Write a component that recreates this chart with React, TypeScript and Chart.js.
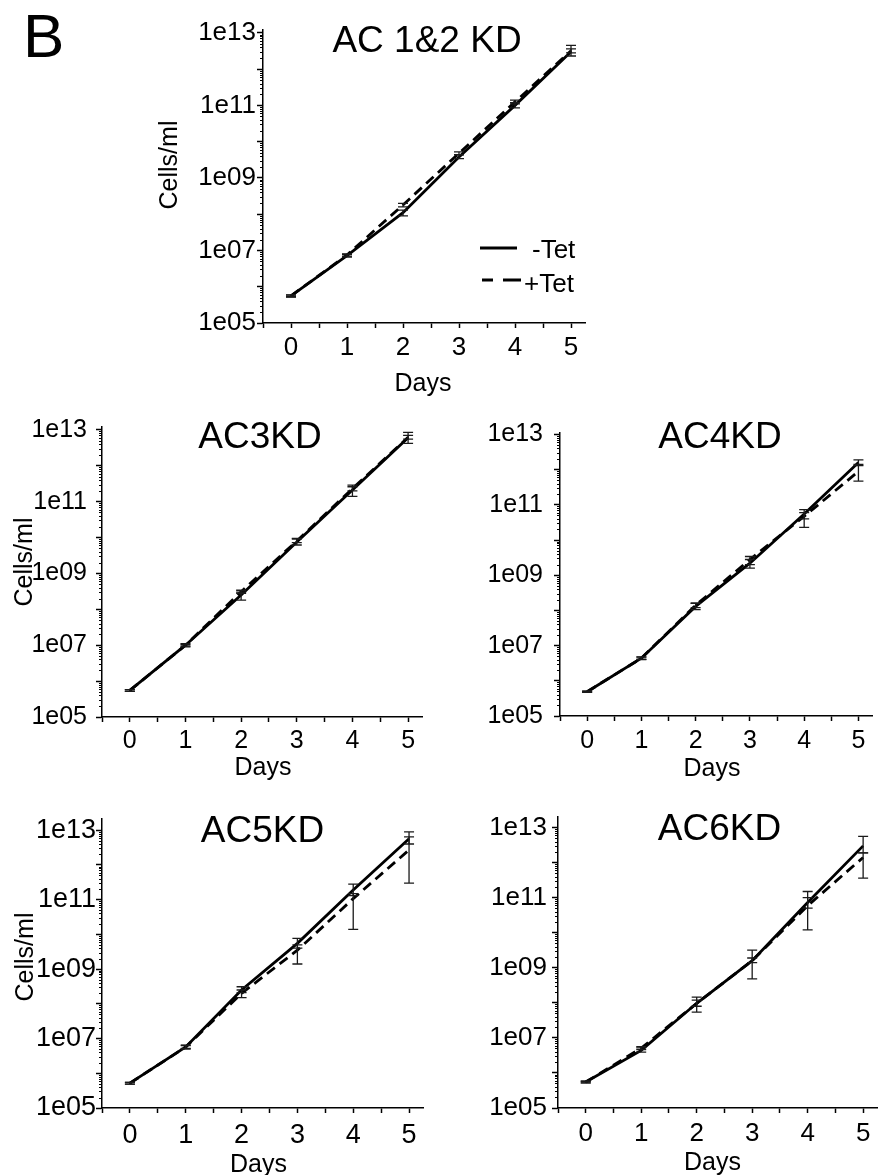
import React, { useEffect, useRef } from 'react';
import { Chart, registerables } from 'chart.js';

Chart.register(...registerables);

const FONT = '"Liberation Sans", Arial, Helvetica, sans-serif';

// ---- shared axes ----
const days = [0, 1, 2, 3, 4, 5];
const xTickValues = [-0.5, 0, 0.5, 1, 1.5, 2, 2.5, 3, 3.5, 4, 4.5, 5];
const yDecadeExps = [5, 6, 7, 8, 9, 10, 11, 12, 13];
const yLabelExps = [5, 7, 9, 11, 13];
const seriesLabels = ['-Tet', '+Tet'];
const xAxisTitle = 'Days';
const yAxisTitle = 'Cells/ml';
const panelLetter = 'B';

// ---- AC 1&2 KD ----
const ac12Minus = [5.6e5, 7.2e6, 1.1e8, 3.8e9, 1.0e11, 3.0e12];
const ac12MinusLo = [5.2e5, 6.6e6, 9.0e7, 3.4e9, 8.5e10, 2.3e12];
const ac12MinusHi = [6.0e5, 7.8e6, 1.3e8, 4.3e9, 1.2e11, 4.5e12];
const ac12Plus = [5.6e5, 7.5e6, 1.8e8, 4.8e9, 1.25e11, 3.2e12];
const ac12PlusLo = [5.3e5, 7.0e6, 1.6e8, 4.4e9, 1.1e11, 2.8e12];
const ac12PlusHi = [5.9e5, 8.0e6, 2.0e8, 5.2e9, 1.4e11, 3.6e12];

// ---- AC3KD ----
const ac3Minus = [5.5e5, 1.0e7, 2.5e8, 7.5e9, 2.1e11, 6.0e12];
const ac3MinusLo = [5.2e5, 9.0e6, 1.8e8, 6.2e9, 1.4e11, 4.2e12];
const ac3MinusHi = [5.8e5, 1.1e7, 3.0e8, 9.5e9, 2.9e11, 8.5e12];
const ac3Plus = [5.5e5, 1.0e7, 3.1e8, 8.0e9, 2.3e11, 6.2e12];
const ac3PlusLo = [5.2e5, 9.5e6, 2.8e8, 7.2e9, 2.0e11, 5.5e12];
const ac3PlusHi = [5.8e5, 1.05e7, 3.4e8, 9.0e9, 2.6e11, 7.0e12];

// ---- AC4KD ----
const ac4Minus = [4.9e5, 4.4e6, 1.3e8, 2.2e9, 5.5e10, 1.6e12];
const ac4MinusLo = [4.7e5, 4.0e6, 1.05e8, 1.6e9, 4.0e10, 1.3e12];
const ac4MinusHi = [5.1e5, 4.8e6, 1.6e8, 2.8e9, 7.3e10, 1.9e12];
const ac4Plus = [4.9e5, 4.4e6, 1.4e8, 2.8e9, 4.7e10, 8.9e11];
const ac4PlusLo = [4.7e5, 4.1e6, 1.2e8, 2.0e9, 2.3e10, 4.7e11];
const ac4PlusHi = [5.1e5, 4.7e6, 1.6e8, 3.4e9, 6.0e10, 1.4e12];

// ---- AC5KD ----
const ac5Minus = [5.2e5, 5.7e6, 2.5e8, 5.5e9, 1.9e11, 5.7e12];
const ac5MinusLo = [4.9e5, 5.0e6, 2.1e8, 4.0e9, 1.3e11, 4.0e12];
const ac5MinusHi = [5.5e5, 6.5e6, 3.1e8, 7.7e9, 2.8e11, 9.0e12];
const ac5Plus = [5.2e5, 5.7e6, 2.0e8, 3.5e9, 1.07e11, 2.7e12];
const ac5PlusLo = [4.9e5, 5.2e6, 1.5e8, 1.4e9, 1.4e10, 3.0e11];
const ac5PlusHi = [5.5e5, 6.3e6, 2.5e8, 5.0e9, 1.5e11, 6.4e12];

// ---- AC6KD ----
const ac6Minus = [5.5e5, 4.4e6, 9.7e7, 1.6e9, 7.3e10, 3.0e12];
const ac6MinusLo = [5.2e5, 3.9e6, 8.0e7, 1.4e9, 5.0e10, 1.9e12];
const ac6MinusHi = [5.8e5, 5.2e6, 1.45e8, 1.9e9, 1.5e11, 5.6e12];
const ac6Plus = [5.5e5, 5.1e6, 9.7e7, 1.6e9, 5.9e10, 1.4e12];
const ac6PlusLo = [5.2e5, 4.6e6, 5.4e7, 4.8e8, 1.2e10, 3.6e11];
const ac6PlusHi = [5.8e5, 5.6e6, 1.2e8, 3.2e9, 1.0e11, 1.9e12];

type Panel = {
  title: string;
  minus: number[]; minusLo: number[]; minusHi: number[];
  plus: number[]; plusLo: number[]; plusHi: number[];
  cx: number; cy: number; cw: number; ch: number;
  L: number; R: number; T: number; B: number;
  yMax: number;
  fs: number; yPad: number; xPad: number;
  titleDx: number; titleDy: number;
  yTitle: boolean; yTitleDx?: number; yTitleDy?: number;
  daysDx: number; daysDy: number;
  legend?: boolean; letter?: boolean;
};

const panels: Panel[] = [
  {
    title: 'AC 1&2 KD',
    minus: ac12Minus, minusLo: ac12MinusLo, minusHi: ac12MinusHi,
    plus: ac12Plus, plusLo: ac12PlusLo, plusHi: ac12PlusHi,
    cx: 0, cy: 0, cw: 620, ch: 410, L: 263, R: 585, T: 30, B: 323,
    yMax: 1.2e13, fs: 26, yPad: 1, xPad: 4,
    titleDx: 3, titleDy: 22, yTitle: true, yTitleDx: -86, yTitleDy: 135,
    daysDx: -1, daysDy: 61, legend: true, letter: true,
  },
  {
    title: 'AC3KD',
    minus: ac3Minus, minusLo: ac3MinusLo, minusHi: ac3MinusHi,
    plus: ac3Plus, plusLo: ac3PlusLo, plusHi: ac3PlusHi,
    cx: 0, cy: 410, cw: 440, ch: 385, L: 102, R: 422, T: 427, B: 717,
    yMax: 1.2e13, fs: 25, yPad: 9, xPad: 4,
    titleDx: -2, titleDy: 21, yTitle: true, yTitleDx: -70, yTitleDy: 135,
    daysDx: 1, daysDy: 51,
  },
  {
    title: 'AC4KD',
    minus: ac4Minus, minusLo: ac4MinusLo, minusHi: ac4MinusHi,
    plus: ac4Plus, plusLo: ac4PlusLo, plusHi: ac4PlusHi,
    cx: 440, cy: 410, cw: 445, ch: 385, L: 560, R: 872, T: 433, B: 716,
    yMax: 1.1e13, fs: 25, yPad: 11, xPad: 5,
    titleDx: 4, titleDy: 15, yTitle: false,
    daysDx: -4, daysDy: 53,
  },
  {
    title: 'AC5KD',
    minus: ac5Minus, minusLo: ac5MinusLo, minusHi: ac5MinusHi,
    plus: ac5Plus, plusLo: ac5PlusLo, plusHi: ac5PlusHi,
    cx: 0, cy: 800, cw: 440, ch: 375, L: 102, R: 423, T: 819, B: 1108,
    yMax: 2.1e13, fs: 27, yPad: 0, xPad: 6,
    titleDx: 0, titleDy: 23, yTitle: true, yTitleDx: -69, yTitleDy: 138,
    daysDx: -4, daysDy: 57,
  },
  {
    title: 'AC6KD',
    minus: ac6Minus, minusLo: ac6MinusLo, minusHi: ac6MinusHi,
    plus: ac6Plus, plusLo: ac6PlusLo, plusHi: ac6PlusHi,
    cx: 440, cy: 800, cw: 445, ch: 375, L: 558, R: 877, T: 817, B: 1108,
    yMax: 2.0e13, fs: 26, yPad: 5, xPad: 5,
    titleDx: 2, titleDy: 23, yTitle: false,
    daysDx: -5, daysDy: 55,
  },
];

function yLabel(value: number): string {
  const e = Math.round(Math.log10(value));
  if (Math.abs(value / Math.pow(10, e) - 1) > 1e-6) return '';
  if (!yLabelExps.includes(e)) return '';
  return '1e' + String(e).padStart(2, '0');
}

function makeDecor(p: Panel) {
  return {
    id: 'decor',
    afterDatasetsDraw(chart: any) {
      const { ctx, scales } = chart;
      const x = scales.x;
      const y = scales.y;
      ctx.save();
      ctx.strokeStyle = '#1a1a1a';
      ctx.lineWidth = 1.3;
      const series = [
        [p.minusLo, p.minusHi],
        [p.plusLo, p.plusHi],
      ];
      series.forEach(([lo, hi]) => {
        days.forEach((d, i) => {
          const px = x.getPixelForValue(d);
          const pl = y.getPixelForValue(lo[i]);
          const ph = y.getPixelForValue(hi[i]);
          ctx.beginPath();
          ctx.moveTo(px, pl); ctx.lineTo(px, ph);
          ctx.moveTo(px - 5, pl); ctx.lineTo(px + 5, pl);
          ctx.moveTo(px - 5, ph); ctx.lineTo(px + 5, ph);
          ctx.stroke();
        });
      });
      ctx.restore();
    },
    afterDraw(chart: any) {
      const { ctx, chartArea, scales } = chart;
      const y = scales.y;
      const { left, right, top, bottom } = chartArea;
      ctx.save();
      // minor log ticks
      ctx.strokeStyle = '#000';
      ctx.lineWidth = 1;
      for (let e = 5; e < 13; e++) {
        for (let m = 2; m <= 9; m++) {
          const py = Math.round(y.getPixelForValue(m * Math.pow(10, e))) + 0.5;
          if (py < top) continue;
          ctx.beginPath();
          ctx.moveTo(left - 3, py); ctx.lineTo(left, py);
          ctx.stroke();
        }
      }
      ctx.fillStyle = '#000';
      // panel title
      ctx.font = `37px ${FONT}`;
      ctx.textAlign = 'center';
      ctx.textBaseline = 'alphabetic';
      ctx.fillText(p.title, (left + right) / 2 + p.titleDx, top + p.titleDy);
      // x title
      ctx.font = `25px ${FONT}`;
      ctx.textBaseline = 'middle';
      ctx.fillText(xAxisTitle, (left + right) / 2 + p.daysDx, bottom + p.daysDy);
      // y title
      if (p.yTitle) {
        ctx.save();
        ctx.translate(left + (p.yTitleDx || 0), top + (p.yTitleDy || 0));
        ctx.rotate(-Math.PI / 2);
        ctx.textAlign = 'center';
        ctx.textBaseline = 'alphabetic';
        ctx.font = `25px ${FONT}`;
        ctx.fillText(yAxisTitle, 0, 0);
        ctx.restore();
      }
      if (p.legend) {
        ctx.strokeStyle = '#000';
        ctx.lineWidth = 3;
        ctx.beginPath();
        ctx.moveTo(left + 217, top + 218); ctx.lineTo(left + 254, top + 218);
        ctx.stroke();
        ctx.setLineDash([11, 10, 18, 100]);
        ctx.beginPath();
        ctx.moveTo(left + 219, top + 250); ctx.lineTo(left + 258, top + 250);
        ctx.stroke();
        ctx.setLineDash([]);
        ctx.font = `26px ${FONT}`;
        ctx.textAlign = 'left';
        ctx.textBaseline = 'alphabetic';
        ctx.fillText(seriesLabels[0], left + 269, top + 228);
        ctx.fillText(seriesLabels[1], left + 261, top + 262);
      }
      if (p.letter) {
        ctx.font = `62px ${FONT}`;
        ctx.textAlign = 'left';
        ctx.textBaseline = 'alphabetic';
        ctx.fillText(panelLetter, 23 - p.cx, 57 - p.cy);
      }
      ctx.restore();
    },
  };
}

function PanelChart({ p }: { p: Panel }) {
  const ref = useRef<HTMLCanvasElement | null>(null);
  useEffect(() => {
    if (!ref.current) return;
    const zeroPad = (s: any) => {
      s.paddingLeft = 0; s.paddingRight = 0; s.paddingTop = 0; s.paddingBottom = 0;
    };
    const chart = new Chart(ref.current, {
      type: 'line',
      data: {
        datasets: [
          {
            label: seriesLabels[0],
            data: days.map((d, i) => ({ x: d, y: p.minus[i] })),
            borderColor: '#000', borderWidth: 2.8, pointRadius: 0, tension: 0, fill: false,
          },
          {
            label: seriesLabels[1],
            data: days.map((d, i) => ({ x: d, y: p.plus[i] })),
            borderColor: '#000', borderWidth: 2.8, borderDash: [10, 6], pointRadius: 0, tension: 0, fill: false,
          },
        ],
      },
      options: {
        responsive: false,
        animation: false,
        devicePixelRatio: 1,
        events: [],
        layout: { padding: { left: 0, top: p.T - p.cy, right: p.cx + p.cw - p.R, bottom: 0 } },
        plugins: { legend: { display: false }, tooltip: { enabled: false }, title: { display: false } },
        scales: {
          x: {
            type: 'linear', min: -0.5, max: 5.25,
            afterBuildTicks: (s: any) => { s.ticks = xTickValues.map((v) => ({ value: v })); },
            afterFit: (s: any) => { s.height = p.cy + p.ch - p.B; zeroPad(s); },
            grid: { display: true, drawOnChartArea: false, drawTicks: true, tickLength: 5, tickWidth: 1.5, tickColor: '#000' },
            border: { display: true, color: '#000', width: 1.5 },
            ticks: {
              autoSkip: false, maxRotation: 0, minRotation: 0, padding: p.xPad, color: '#000',
              font: { family: FONT, size: p.fs },
              callback: (v: any) => (Number.isInteger(v) ? String(v) : ''),
            },
          },
          y: {
            type: 'logarithmic', min: 1e5, max: p.yMax,
            afterBuildTicks: (s: any) => { s.ticks = yDecadeExps.map((e) => ({ value: Math.pow(10, e) })); },
            afterFit: (s: any) => { s.width = p.L - p.cx; zeroPad(s); },
            grid: { display: true, drawOnChartArea: false, drawTicks: true, tickLength: 6, tickWidth: 1.5, tickColor: '#000' },
            border: { display: true, color: '#000', width: 1.5 },
            ticks: {
              autoSkip: false, padding: p.yPad, color: '#000',
              font: { family: FONT, size: p.fs },
              callback: (v: any) => yLabel(Number(v)),
            },
          },
        },
      },
      plugins: [makeDecor(p)],
    } as any);
    return () => chart.destroy();
  }, [p]);
  return (
    <canvas
      ref={ref}
      width={p.cw}
      height={p.ch}
      style={{ position: 'absolute', left: p.cx, top: p.cy, width: p.cw, height: p.ch }}
    />
  );
}

export default function App() {
  return (
    <div style={{ position: 'absolute', left: 0, top: 0, width: 885, height: 1175, background: '#fff', overflow: 'hidden' }}>
      {panels.map((p) => (
        <PanelChart key={p.title} p={p} />
      ))}
    </div>
  );
}
